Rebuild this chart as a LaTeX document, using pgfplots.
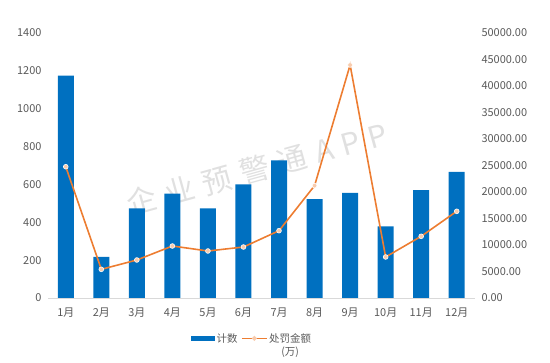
\documentclass[border=0pt]{standalone}
\usepackage{fontspec}
\setmainfont{Noto Sans CJK SC}
\usepackage{pgfplots}
\pgfplotsset{compat=1.18}
\definecolor{barblue}{HTML}{0070C0}
\definecolor{lineorange}{HTML}{ED7D31}
\definecolor{markfill}{HTML}{F8CBAD}
\definecolor{ticktext}{HTML}{595959}
\definecolor{axisgray}{HTML}{D9D9D9}
\begin{document}
\begin{tikzpicture}
\path[use as bounding box] (0bp,0bp) rectangle (550bp,363bp);
\pgfplotsset{
  common/.style={
    scale only axis, width=426.5bp, height=265bp,
    at={(48bp,65bp)}, anchor=south west,
    xmin=-0.5, xmax=11.5,
    tick label style={font=\fontsize{11}{13}\selectfont, text=ticktext},
    /pgf/number format/assume math mode=true,
    /pgf/number format/1000 sep={},
    major tick length=0pt,
    scaled y ticks=false,
  }
}
\begin{axis}[common,
  ymin=0, ymax=1400, ytick={0,200,...,1400},
  axis x line*=bottom, axis y line*=left,
  y axis line style={draw=none},
  x axis line style={-, axisgray, line width=0.8bp},
  xtick={0,...,11},
  xticklabels={1月,2月,3月,4月,5月,6月,7月,8月,9月,10月,11月,12月},
  xticklabel style={yshift=-6.5bp},
  yticklabel style={xshift=-3bp},
  xtick style={draw=none}, ytick style={draw=none},
  legend columns=2,
  legend style={at={(0.478,-0.177)}, anchor=center, draw=none, fill=none,
    font=\fontsize{10.5}{13}\selectfont, text=ticktext,
    nodes={align=center, inner sep=1.5bp},
    /tikz/every even column/.append style={column sep=2bp}},
]
\node[rotate=15.5, text=black, opacity=0.12,
  font=\fontsize{30}{30}\selectfont\addfontfeatures{LetterSpace=30}]
  at (rel axis cs:0.49,0.487) {企业预警通APP};
\addplot[ybar, bar width=16bp, fill=barblue, draw=none,
  legend image code/.code={\path[draw=none, fill=none] (0bp,-9bp) rectangle (24bp,9bp);
    \fill[barblue] (0bp,4.25bp) rectangle (24bp,8.75bp);}]
  coordinates {(0,1175) (1,217) (2,474) (3,551) (4,474) (5,600)
               (6,727) (7,523) (8,556) (9,379) (10,570) (11,666)};
\addlegendentry{计数\\\phantom{(万)}}
\addlegendimage{lineorange, line width=1.5bp,
  legend image code/.code={\path[draw=none, fill=none] (0bp,-9bp) rectangle (25bp,9bp);
    \draw[lineorange, line width=1.5bp] (0bp,6.5bp) -- (25bp,6.5bp);
    \fill[markfill] (12.5bp,6.5bp) circle (1.6bp);}}
\addlegendentry{处罚金额\\(万)}
\end{axis}
\begin{axis}[common,
  ymin=0, ymax=50000, ytick={0,5000,...,50000},
  axis y line*=right, hide x axis,
  y axis line style={draw=none},
  ytick style={draw=none},
  yticklabel style={xshift=3.5bp, /pgf/number format/fixed, /pgf/number format/fixed zerofill,
    /pgf/number format/precision=2, /pgf/number format/1000 sep={}},
]
\addplot[lineorange, line width=1.6bp, mark=*, mark size=2.4bp,
  mark options={fill=markfill, draw=white, line width=0.6bp}]
  coordinates {(0,24770) (1,5410) (2,7170) (3,9810) (4,8870) (5,9620)
               (6,12700) (7,21190) (8,43960) (9,7740) (10,11640) (11,16360)};
\end{axis}
\end{tikzpicture}
\end{document}
